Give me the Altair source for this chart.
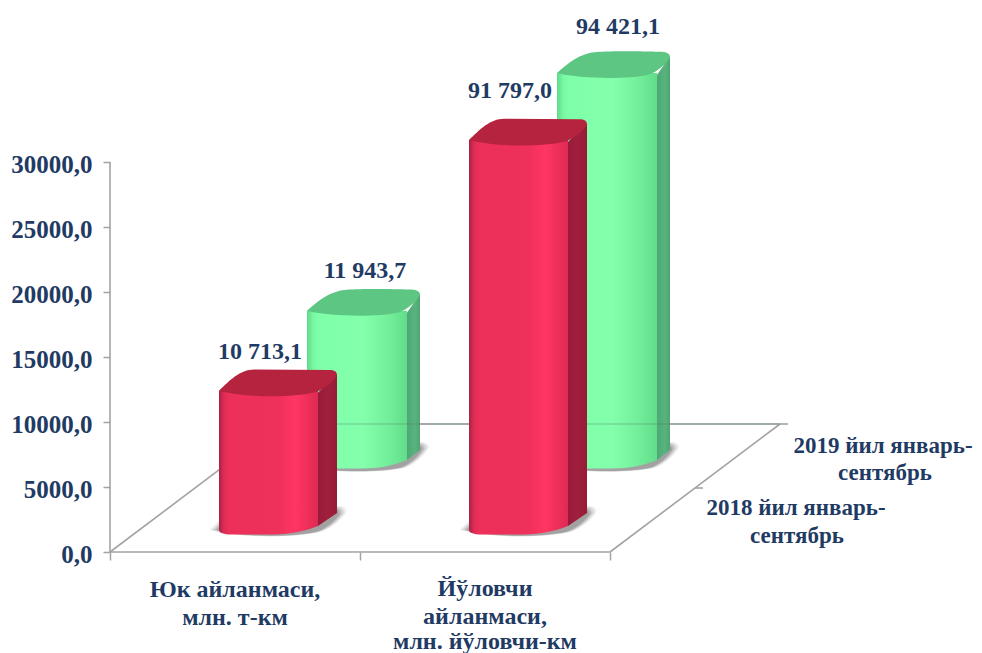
import altair as alt
import pandas as pd

# ---- values ----
categories = ["Юк айланмаси, млн. т-км", "Йўловчи айланмаси, млн. йўловчи-км"]
series = ["2018 йил январь-сентябрь", "2019 йил январь-сентябрь"]
labels_2018 = ["10 713,1", "91 797,0"]
labels_2019 = ["11 943,7", "94 421,1"]
# heights as drawn: the tall columns are cut off near the top of the value axis
drawn_2018 = [10713.1, 30000.0]
drawn_2019 = [11943.7, 30230.0]
y_ticks = [0, 5000, 10000, 15000, 20000, 25000, 30000]
cat_label_lines = [["Юк айланмаси,", "млн. т-км"], ["Йўловчи", "айланмаси,", "млн. йўловчи-км"]]
series_label_lines = [["2018 йил январь-", "сентябрь"], ["2019 йил январь-", "сентябрь"]]

# ---- layout: scale factors of the oblique projection ----
PX_W, PX_H = 860, 542
XU = 1 / 250.0            # x units per pixel
YU = 30000 / 390.0        # value units per pixel
X_DOM = [0, PX_W * XU]
Y_DOM = [0, PX_H * YU]
FLOOR_DX, FLOOR_DY = 170 * XU, 128 * YU
TEXT = "#1F3B64"
LINE = "#A3A3A3"
FONT = "Liberation Serif"

x_scale = alt.Scale(domain=X_DOM, nice=False, zero=False)
y_scale = alt.Scale(domain=Y_DOM, nice=False, zero=False)


def X(f="x", axis=None):
    if axis is None:
        return alt.X(f"{f}:Q", scale=x_scale, title=None)
    return alt.X(f"{f}:Q", scale=x_scale, axis=axis, title=None)


def Y(f="y", axis=None):
    if axis is None:
        return alt.Y(f"{f}:Q", scale=y_scale, title=None)
    return alt.Y(f"{f}:Q", scale=y_scale, axis=axis, title=None)


def grad(stops):
    return alt.Gradient(
        gradient="linear", x1=0, x2=1, y1=0, y2=0,
        stops=[alt.GradientStop(offset=o, color=c) for o, c in stops],
    )


def seg(x, y, x2, y2, color=LINE, width=1.6, opacity=1.0):
    d = pd.DataFrame([{"x": x, "y": y, "x2": x2, "y2": y2}])
    return alt.Chart(d).mark_rule(color=color, strokeWidth=width, opacity=opacity).encode(
        x=X(), y=Y(), x2="x2:Q", y2="y2:Q"
    )


STYLE = {
    0: dict(
        dx=29 * XU, dy=22 * YU, front=99, side=19, left=[80 * XU, 330 * XU],
        body=[(0, "#A82245"), (0.05, "#DE2C55"), (0.1, "#EC305A"), (0.6, "#EE305A"),
              (0.77, "#FF3662"), (1, "#DE2A52")],
        side_fill=grad([(0, "#98193A"), (0.5, "#A01F3C"), (1, "#961C37")]),
        cap="#B5233F", shadow="#555555",
        rise_side=17, bottom_flat=4, bottom_side=17,
        cap_path="M-1,0 C-.55,.12 .2,.12 .62,.03 C.78,-.02 .93,-.15 1,-.26 C1,-.31 .97,-.35 .88,-.35 "
                 "L-.4,-.36 C-.65,-.36 -.82,-.17 -1,0 Z",
        lift=[39, 49], lx=[41, 41],
    ),
    1: dict(
        dx=117 * XU, dy=86 * YU, front=100, side=13, left=[80 * XU, 330 * XU],
        body=[(0, "#60D88C"), (0.06, "#78F8A2"), (0.12, "#7EFFA8"), (0.55, "#84FFAC"),
              (0.8, "#74F09C"), (1, "#62DC8A")],
        side_fill=grad([(0, "#4DA873"), (0.6, "#58B47E"), (1, "#4FA572")]),
        cap="#5CC682", shadow="#555555",
        rise_side=17, bottom_flat=6, bottom_side=16,
        cap_path="M-1,0 C-.55,.11 .25,.11 .62,.03 C.8,-.03 .93,-.17 1,-.28 C1,-.34 .95,-.375 .8,-.375 "
                 "C.5,-.385 -.05,-.39 -.3,-.37 C-.6,-.35 -.8,-.17 -1,0 Z",
        lift=[40, 46], lx=[58, 61],
    ),
}
BOTTOM_PATH = "M-1,0 L1,0 C.75,.1 .45,.17 .1,.17 L-.75,.17 C-.9,.17 -1,.14 -1,.08 Z"


def column(si, ci, height):
    s = STYLE[si]
    x0 = s["left"][ci] + s["dx"]
    xf = x0 + s["front"] * XU
    xo = xf + s["side"] * XU
    base = s["dy"]
    top = base + height
    rect_bottom = base + s["bottom_flat"] * YU
    mid_all = (x0 + xo) / 2
    mid_front = (x0 + xf) / 2
    total = s["front"] + s["side"]
    layers = []
    # soft floor shadow
    for k, op in ((1.16, 0.10), (1.12, 0.14), (1.08, 0.2), (1.04, 0.25)):
        d = pd.DataFrame([{"x": mid_all, "y": base}])
        layers.append(
            alt.Chart(d).mark_point(shape=s["cap_path"], filled=True, fill=s["shadow"],
                                    opacity=op, size=(total * k) ** 2, stroke=None)
            .encode(x=X(), y=Y())
        )
    # right side
    d = pd.DataFrame([
        {"x": xf, "y": top - 2 * YU, "y2": rect_bottom},
        {"x": xo, "y": top + s["rise_side"] * YU, "y2": base + s["bottom_side"] * YU},
    ])
    layers.append(alt.Chart(d).mark_area(fill=s["side_fill"], line=False, opacity=1)
                  .encode(x=X(), y=Y(), y2="y2:Q"))
    # front face
    d = pd.DataFrame([{"x": x0, "x2": xf, "y": top, "y2": rect_bottom}])
    layers.append(alt.Chart(d).mark_rect(fill=grad(s["body"]))
                  .encode(x=X(), x2="x2:Q", y=Y(), y2="y2:Q"))
    # rounded bottom edge
    d = pd.DataFrame([{"x": mid_front, "y": rect_bottom}])
    layers.append(
        alt.Chart(d).mark_point(shape=BOTTOM_PATH, filled=True, fill=grad(s["body"]),
                                opacity=1, size=s["front"] ** 2, stroke=None)
        .encode(x=X(), y=Y())
    )
    # top face
    d = pd.DataFrame([{"x": mid_all, "y": top}])
    layers.append(
        alt.Chart(d).mark_point(shape=s["cap_path"], filled=True, fill=s["cap"],
                                opacity=1, size=total ** 2, stroke=None)
        .encode(x=X(), y=Y())
    )
    return layers


def text_row(x, y, txt, size=24):
    d = pd.DataFrame([{"x": x, "y": y, "t": txt}])
    return alt.Chart(d).mark_text(
        font=FONT, fontWeight="bold", fontSize=size, color=TEXT, align="center", baseline="middle"
    ).encode(x=X(), y=Y(), text="t:N")


layers = []

# axes come from the library
axis_data = pd.DataFrame([{"x": 0, "y": 0}])
y_axis = alt.Axis(
    values=y_ticks, domain=False, grid=False, ticks=True, tickColor=LINE, tickWidth=1.5, tickSize=7,
    labelFont=FONT, labelFontWeight="bold", labelFontSize=25, labelColor=TEXT, labelPadding=11,
    labelOffset=2, labelExpr="replace(format(datum.value,'.1f'),'.',',')", labelOverlap=False,
)
x_axis = alt.Axis(values=[0, 1, 2], domain=False, grid=False, ticks=True, tickColor=LINE,
                  tickWidth=1.5, tickSize=8, labels=False)
layers.append(alt.Chart(axis_data).mark_point(opacity=0).encode(x=X(axis=x_axis), y=Y(axis=y_axis)))

# value axis line, floor outline
layers.append(seg(0, 0, 0, 30000))
layers.append(seg(0, 0, 2, 0))
layers.append(seg(0, 0, FLOOR_DX, FLOOR_DY))
layers.append(seg(2, 0, 2 + FLOOR_DX, FLOOR_DY))
layers.append(seg(FLOOR_DX, FLOOR_DY, 2 + FLOOR_DX, FLOOR_DY))
for t in (0.5, 1.0):
    layers.append(seg(2 + FLOOR_DX * t, FLOOR_DY * t, 2 + FLOOR_DX * t + 8 * XU, FLOOR_DY * t))

# back row
for ci in (0, 1):
    layers += column(1, ci, drawn_2019[ci])
# floor's back edge shows faintly through the green columns
layers.append(seg(FLOOR_DX, FLOOR_DY, 2 + FLOOR_DX, FLOOR_DY, color="#4F7F66", opacity=0.45, width=1.2))
# front row
for ci in (0, 1):
    layers += column(0, ci, drawn_2018[ci])

# value labels
for si, (vals, labs) in enumerate(((drawn_2018, labels_2018), (drawn_2019, labels_2019))):
    s = STYLE[si]
    for ci in (0, 1):
        x = s["left"][ci] + s["dx"] + s["lx"][ci] * XU
        y = s["dy"] + vals[ci] + s["lift"][ci] * YU
        layers.append(text_row(x, y, labs[ci]))

# category labels
cat_centres = [(235 - 110) * XU, (485 - 110) * XU]
cat_rows = [[590, 618], [589, 617, 642]]
for lines, cx, ys in zip(cat_label_lines, cat_centres, cat_rows):
    for line, py in zip(lines, ys):
        layers.append(text_row(cx, (552 - py) * YU, line))

# series labels on the right
ser_pos = [[(796, 508), (797, 536)], [(883, 446), (885, 473)]]
for lines, pos in zip(series_label_lines, ser_pos):
    for line, (px, py) in zip(lines, pos):
        layers.append(text_row((px - 110) * XU, (552 - py) * YU, line, 23))

chart = (
    alt.layer(*layers)
    .properties(
        width=PX_W, height=PX_H, background="white",
        autosize=alt.AutoSizeParams(type="none"),
        padding={"left": 102, "top": 2, "right": 4, "bottom": 101},
    )
    .configure_view(stroke=None)
)

chart.save("out.html", embed_options={"renderer": "svg", "actions": False})
